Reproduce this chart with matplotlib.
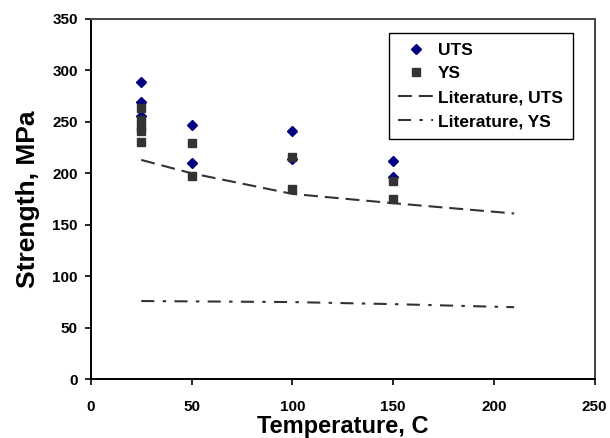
import matplotlib
matplotlib.use("Agg")
import matplotlib.pyplot as plt

# measured points
uts_temp = [25, 25, 25, 50, 50, 100, 100, 150, 150]
uts_mpa = [289, 269, 256, 247, 210, 241, 214, 212, 196]

ys_temp = [25, 25, 25, 25, 25, 50, 50, 100, 100, 150, 150]
ys_mpa = [263, 252, 245, 241, 230, 229, 197, 216, 185, 193, 175]

# literature curves
lit_temp_uts = [25, 50, 100, 150, 210]
lit_uts = [213, 200, 180, 171, 161]
lit_temp_ys = [25, 100, 150, 210]
lit_ys = [76, 75, 73, 70]

plt.rcParams['font.family'] = ['Liberation Sans', 'DejaVu Sans']
plt.rcParams['font.weight'] = 'bold'
plt.rcParams['lines.scale_dashes'] = False

fig, ax = plt.subplots(figsize=(6.1, 4.38), dpi=100)
fig.subplots_adjust(left=0.149, right=0.975, top=0.957, bottom=0.134)

ax.plot(uts_temp, uts_mpa, linestyle='none', marker='D', markersize=4.7,
        color='#000080', label='UTS', zorder=3)
ax.plot(ys_temp, ys_mpa, linestyle='none', marker='s', markersize=5.3,
        color='#333333', label='YS', zorder=4)
ax.plot(lit_temp_uts, lit_uts, color='#333333', linewidth=1.5,
        dashes=(10, 5), label='Literature, UTS', zorder=5)
ax.plot(lit_temp_ys, lit_ys, color='#333333', linewidth=1.5,
        dashes=(9.4, 6, 2.5, 6), label='Literature, YS', zorder=5)

ax.set_xlim(0, 250)
ax.set_ylim(0, 350)
ax.set_xticks([0, 50, 100, 150, 200, 250])
ax.set_yticks([0, 50, 100, 150, 200, 250, 300, 350])

ax.set_xlabel('Temperature, C', fontsize=17, fontweight='bold', labelpad=0.5)
ax.set_ylabel('Strength, MPa', fontsize=19, fontweight='bold', labelpad=9)

ax.tick_params(axis='both', direction='out', length=4, width=1.2,
               labelsize=11, colors='black')
ax.tick_params(axis='x', pad=11)
ax.tick_params(axis='y', pad=5.5)
for lbl in ax.get_xticklabels() + ax.get_yticklabels():
    lbl.set_fontweight('bold')

for side in ['left', 'bottom']:
    ax.spines[side].set_linewidth(1.4)
    ax.spines[side].set_color('black')
for side in ['top', 'right']:
    ax.spines[side].set_linewidth(1.4)
    ax.spines[side].set_color('#444444')

leg = ax.legend(loc='upper left', bbox_to_anchor=(0.591, 0.961),
                borderaxespad=0, fancybox=False, framealpha=1,
                edgecolor='black', numpoints=1, handlelength=2.0,
                handletextpad=0.3, labelspacing=0.5, borderpad=0.55,
                prop={'size': 12.5, 'weight': 'bold'})
leg.get_frame().set_linewidth(1.0)

fig.savefig('out.png', dpi=100)
